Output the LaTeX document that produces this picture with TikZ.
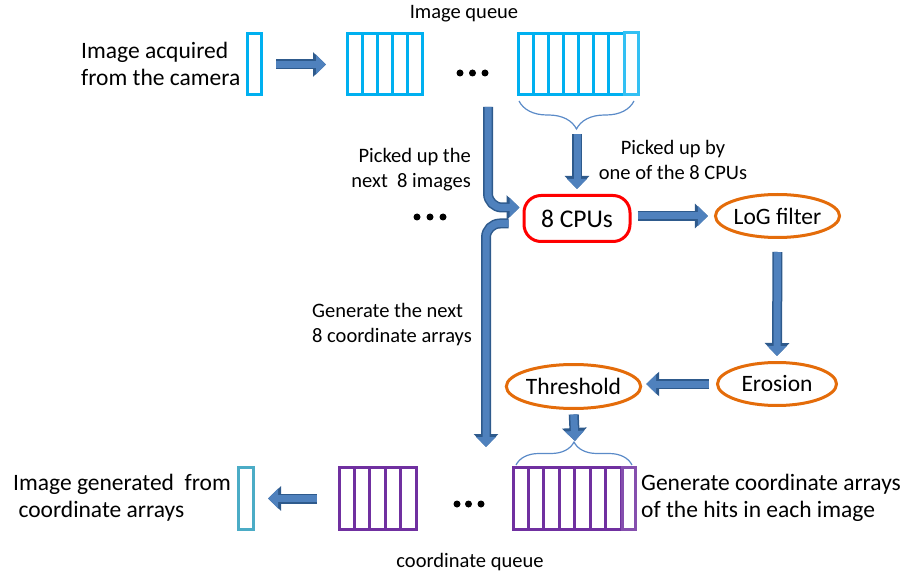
\documentclass[tikz,border=0pt]{standalone}
\usepackage{fontspec}
\setmainfont{Carlito}
\usetikzlibrary{arrows.meta,shapes.geometric,decorations.pathreplacing,calc}

\definecolor{qcyan}{HTML}{00B0F0}
\definecolor{qteal}{HTML}{4BACC6}
\definecolor{qpurple}{HTML}{7030A0}
\definecolor{stageorange}{HTML}{E46C0A}
\definecolor{cpured}{HTML}{FF0000}
\definecolor{arrowfill}{HTML}{4F81BD}
\definecolor{arrowedge}{HTML}{2E5A8C}
\definecolor{bracecol}{HTML}{5B8BC8}

\tikzset{
  bigtext/.style={font=\fontsize{23.5pt}{27pt}\selectfont, inner sep=0pt},
  smalltext/.style={font=\fontsize{20.5pt}{25pt}\selectfont, inner sep=0pt},
  frame/.style={draw=#1, line width=3pt, rectangle, inner sep=0pt, outer sep=0pt},
  stage/.style={draw=stageorange, line width=3pt, ellipse, inner sep=0pt,
    minimum width=119pt, minimum height=43pt, font=\fontsize{23.5pt}{27pt}\selectfont},
  blockarrow/.style={line width=7pt, draw=arrowfill,
    -{Triangle[width=19pt,length=10pt]},
    preaction={draw=arrowedge, line width=10pt, -{Triangle[width=24pt,length=13pt]}}},
  bracestyle/.style={draw=bracecol, line width=1.2pt, decorate},
  qdot/.style={fill=black}
}

% dividers of a queue node into #3+1 cells
\newcommand\cellsplit[3]{%
  \foreach \k in {1,...,#3}
    \draw[line width=3pt, draw=#2] ($(#1.north west)!\k/(#3+1)!(#1.north east)$)
      -- ($(#1.south west)!\k/(#3+1)!(#1.south east)$);}

\begin{document}
\begin{tikzpicture}[x=1pt,y=-1pt]
\useasboundingbox (0,0) rectangle (906,575);

% ---------- image queue (top row) ----------
\node[smalltext] (iqlabel) at (464,14) {Image queue};
\node[bigtext, anchor=west, align=left] (camtext) at (81,64)
  {Image acquired\\from the camera};
\node[frame=qcyan, minimum width=14pt, minimum height=61pt] (cam) at (254,64.5) {};
\node[frame=qcyan, minimum width=75pt, minimum height=61pt] (q1) at (384.5,64.5) {};
\cellsplit{q1}{qcyan}{4}
\node[frame=qcyan, minimum width=106pt, minimum height=61pt] (q2) at (571,64.5) {};
\cellsplit{q2}{qcyan}{6}
\node[frame=qcyan!80, minimum width=14pt, minimum height=62pt] (q2x) at (631.5,64) {};
\foreach \px in {460,472.5,485} \fill[qdot] (\px,73) circle (3.5pt);

\draw[blockarrow, shorten <=15pt, shorten >=21pt] (cam) -- (q1);

% brace under the queue tail
\coordinate (tbr) at (634,101);
\coordinate (tbl) at (519,101);
\draw[bracestyle, decoration={brace, amplitude=28pt}] (tbr) -- (tbl);
\coordinate (tbtip) at (577,134);

% ---------- processing ----------
\node[draw=cpured, line width=3pt, rectangle, rounded corners=17pt, minimum width=106pt,
  minimum height=46pt, font=\fontsize{25.5pt}{30pt}\selectfont] (cpu) at (577,218.5) {8 CPUs};
\node[stage] (log) at (777.5,216) {LoG filter};
\node[stage] (ero) at (777,384) {Erosion};
\node[stage, minimum width=120pt, minimum height=44pt] (thr) at (573.5,386.5) {Threshold};

\draw[blockarrow, shorten >=5pt] (tbtip) -- (cpu.north);
\draw[blockarrow, shorten <=6pt, shorten >=6pt] (cpu.east |- log.west) -- (log.west);
\draw[blockarrow, shorten <=13pt, shorten >=5pt] (log.south) -- (ero.north);
\draw[blockarrow, shorten <=7pt, shorten >=4pt] (ero.west) -- (thr.east |- ero.west);

\node[smalltext, align=center] (pickby) at (673,160) {Picked up by\\one of the 8 CPUs};
\node[smalltext, anchor=east, align=right] (picknext) at (471,169.5)
  {Picked up the\\next\ \ 8 images};
\foreach \px in {417,430,443} \fill[qdot] (\px,217) circle (3.5pt);
\node[smalltext, anchor=west, align=left] (gennext) at (312,325)
  {Generate the next\\8 coordinate arrays};

% bent connectors: images into the CPUs, coordinate arrays out of them
\coordinate (pickstart) at (488,107);
\draw[blockarrow, rounded corners=14pt] (pickstart) |- ($(cpu.west)+(-3,-11)$);
\coordinate (genend) at (486,447);
\draw[blockarrow, rounded corners=14pt] ($(cpu.west)+(-14,5)$) -| (genend);

% ---------- coordinate queue (bottom row) ----------
\coordinate (bbl) at (516,465);
\coordinate (bbr) at (632,465);
\draw[bracestyle, decoration={brace, amplitude=23pt}] (bbl) -- (bbr);
\coordinate (bbtip) at (575,441);
\draw[blockarrow, shorten <=4.5pt] (thr.south) -- (bbtip);

\node[frame=qpurple, minimum width=108pt, minimum height=62pt] (p2) at (567,498.5) {};
\cellsplit{p2}{qpurple}{6}
\node[frame=qpurple!85, minimum width=13pt, minimum height=62pt] (p2x) at (628.5,498.5) {};
\node[frame=qpurple, minimum width=77pt, minimum height=62pt] (p1) at (377.5,498.5) {};
\cellsplit{p1}{qpurple}{4}
\node[frame=qteal, minimum width=15pt, minimum height=62pt] (gen) at (245.5,498.5) {};
\foreach \px in {457,468.5,481} \fill[qdot] (\px,504) circle (3.5pt);

\draw[blockarrow, shorten <=22pt, shorten >=15pt] (p1) -- (gen);

\node[bigtext, anchor=west, align=left] (gentext) at (13,497.5)
  {Image generated\ \ from\\\ coordinate arrays};
\node[bigtext, anchor=west, align=left] (hitstext) at (641,497.5)
  {Generate coordinate arrays\\of the hits in each image};
\node[smalltext] (cqlabel) at (470,562) {coordinate queue};
\end{tikzpicture}
\end{document}
